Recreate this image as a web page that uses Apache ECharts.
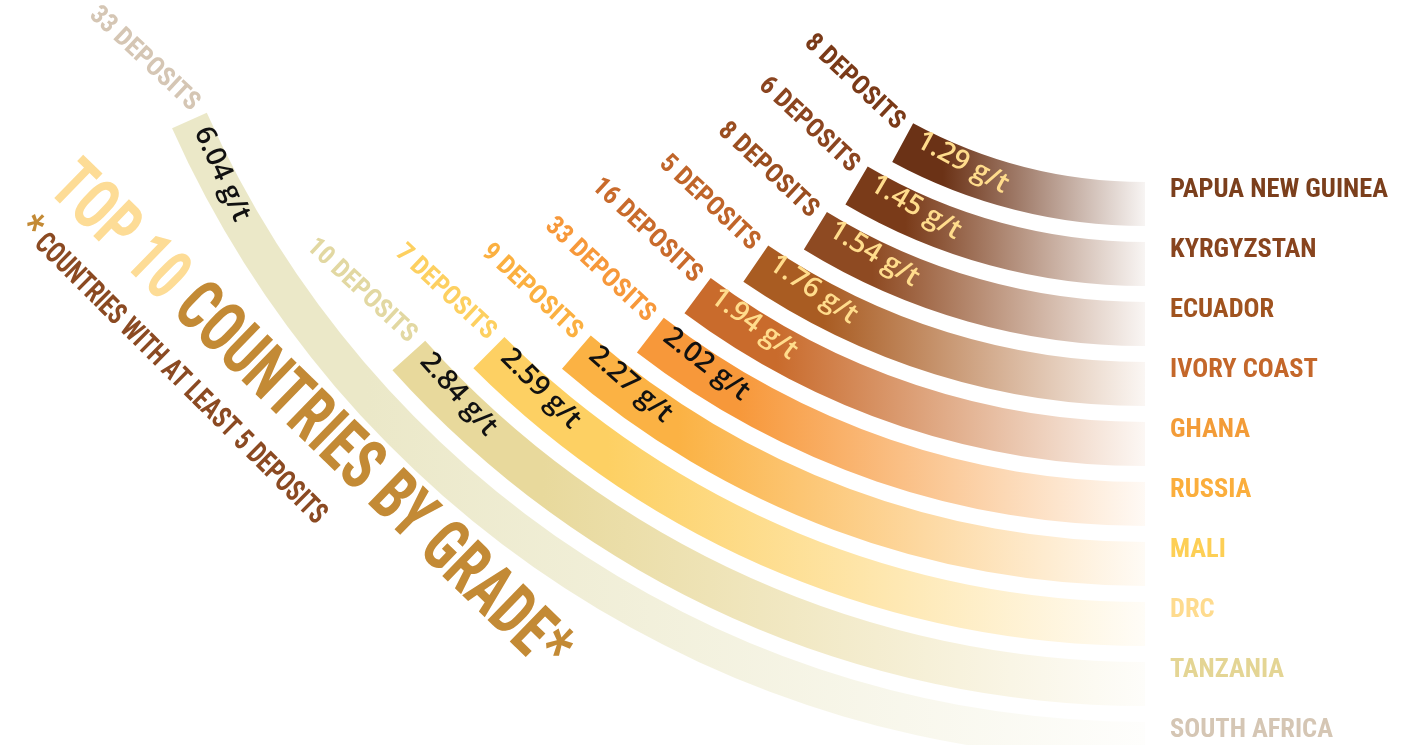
<!DOCTYPE html>
<html><head><meta charset="utf-8">
<script src="https://cdn.jsdelivr.net/npm/echarts@6/dist/echarts.min.js"></script>
<style>html,body{margin:0;padding:0;background:#fff;}#main{width:1403px;height:745px;}</style>
</head><body><div id="main"></div>
<script>
const countries = ['PAPUA NEW GUINEA','KYRGYZSTAN','ECUADOR','IVORY COAST','GHANA','RUSSIA','MALI','DRC','TANZANIA','SOUTH AFRICA'];
const grades = [1.29,1.45,1.54,1.76,1.94,2.02,2.27,2.59,2.84,6.04];
const deposits = [8,6,8,5,16,33,9,7,10,33];
const barColors = ['#6b3216','#7a3b19','#8e4a22','#a95c22','#c96b2c','#f7983a','#fbb244','#fdd063','#e8d99c','#ebe8c8'];
const nameColors = ['#7b3f1c','#88441e','#a0531f','#c4672a','#f39c38','#fbae3c','#fdcf55','#fedb8e','#e4d594','#d5c6b4'];
const depositColors = ['#7a3a18','#8b4520','#9a4e20','#c0652a','#c96b2c','#f7983a','#fbb040','#fdd060','#e2d8a2','#d5c6b4'];
const gradeLabelColors = ['#ffdc8c','#ffdc8c','#ffdc8c','#ffdc8c','#ffdc8c','#111111','#111111','#111111','#111111','#111111'];

// ---- font helpers ----
const ctx = document.createElement('canvas').getContext('2d');
function measure(font, text) { ctx.font = font; return ctx.measureText(text).width; }
function hasFont(name) {
  const s = 'PAPUA NEW GUINEA 0123456789';
  return measure("bold 40px '" + name + "', monospace", s) !== measure('bold 40px monospace', s) ||
         measure("bold 40px '" + name + "', serif", s) !== measure('bold 40px serif', s);
}
const condCandidates = ['Liberation Sans Narrow','Noto Sans Condensed','Roboto Condensed','Open Sans Condensed','DejaVu Sans Condensed','Liberation Sans'];
let condName = 'DejaVu Sans';
for (const f of condCandidates) { if (hasFont(f)) { condName = f; break; } }
const COND = "'" + condName + "', sans-serif";
const VAL = "'Open Sans', sans-serif";
function fitSize(weight, family, text, target) {
  return 40 * target / measure(weight + ' 40px ' + family, text);
}
const nameSize = Math.min(28, fitSize('bold', COND, 'PAPUA NEW GUINEA', 218));
const depSize = Math.min(28, fitSize('bold', COND, '33 DEPOSITS', 140));
const valSize = Math.min(28, fitSize('600', VAL, '2.27 g/t', 108));
const titleLen = measure('bold 72px ' + COND, 'TOP 10 COUNTRIES BY GRADE*');
const subLen = measure('bold 30px ' + COND, ' COUNTRIES WITH AT LEAST 5 DEPOSITS') + measure('bold 44px ' + COND, '*');

function rgba(hex, a) {
  const n = parseInt(hex.slice(1), 16);
  return 'rgba(' + ((n >> 16) & 255) + ',' + ((n >> 8) & 255) + ',' + (n & 255) + ',' + a + ')';
}
function grad(c) {
  return new echarts.graphic.LinearGradient(0, 0, 1, 0, [
    {offset: 0, color: rgba(c, 1)},
    {offset: 0.2, color: rgba(c, 1)},
    {offset: 1, color: rgba(c, 0.05)}
  ]);
}

const CENTER = [1145, -305];
const ANG_MIN = -0.95, ANG_MAX = 4.25;

const chart = echarts.init(document.getElementById('main'), null, {renderer: 'canvas'});

function endGeom(i) {
  const p = chart.convertToPixel({polarIndex: 0}, [i, Math.min(grades[i], ANG_MAX)]);
  const vx = p[0] - CENTER[0], vy = p[1] - CENTER[1];
  const r = Math.sqrt(vx * vx + vy * vy);
  const tx = vy / r, ty = -vx / r;
  const rot = Math.atan2(-ty, tx) * 180 / Math.PI;
  return {x: p[0], y: p[1], tx: tx, ty: ty, nx: vx / r, ny: vy / r, rot: rot};
}

const nameRich = {};
nameColors.forEach(function (c, i) {
  nameRich['c' + i] = {color: c, fontFamily: COND, fontWeight: 'bold', fontSize: nameSize};
});

const option = {
  backgroundColor: '#ffffff',
  animation: false,
  polar: {center: CENTER, radius: [465, 1065]},
  angleAxis: {
    type: 'value', min: ANG_MIN, max: ANG_MAX, startValue: ANG_MIN,
    startAngle: 270, endAngle: 204, clockwise: true,
    axisLine: {show: false}, axisTick: {show: false}, axisLabel: {show: false}, splitLine: {show: false}
  },
  radiusAxis: {
    type: 'category', data: countries,
    axisLine: {show: false}, axisTick: {show: false}, splitLine: {show: false},
    axisLabel: {
      interval: 0, margin: 25, fontFamily: COND, fontWeight: 'bold', fontSize: nameSize,
      formatter: function (v) { return '{c' + countries.indexOf(v) + '|' + v + '}'; },
      rich: nameRich
    }
  },
  series: [
    {
      type: 'bar', coordinateSystem: 'polar', barWidth: 44, barGap: '-100%', z: 2,
      data: grades.map(function (g, i) {
        return {value: g, itemStyle: {color: grad(barColors[i])}, label: {color: gradeLabelColors[i]}};
      }),
      label: {
        show: true, position: 'insideEnd',
        fontFamily: VAL, fontWeight: 600, fontSize: valSize,
        formatter: function (p) { return p.value.toFixed(2) + ' g/t'; }
      },
      labelLayout: function (params) {
        const g = endGeom(params.dataIndex);
        return {x: g.x + g.tx * 12 + g.nx * 3, y: g.y + g.ty * 12 + g.ny * 3, rotate: g.rot, align: 'left', verticalAlign: 'middle'};
      }
    },
    {
      type: 'bar', coordinateSystem: 'polar', barWidth: 44, barGap: '-100%', silent: true, z: 3,
      itemStyle: {color: 'rgba(0,0,0,0)'},
      data: grades.map(function (g, i) {
        return {value: g, label: {color: depositColors[i]}};
      }),
      label: {
        show: true, position: 'end',
        fontFamily: COND, fontWeight: 'bold', fontSize: depSize,
        formatter: function (p) { return deposits[p.dataIndex] + ' DEPOSITS'; }
      },
      labelLayout: function (params) {
        const g = endGeom(params.dataIndex);
        return {x: g.x - g.tx * 10, y: g.y - g.ty * 10, rotate: -43, align: 'right', verticalAlign: 'middle'};
      }
    }
  ],
  graphic: [
    {
      type: 'text', x: 308, y: 420, rotation: -0.772, scaleX: 695 / titleLen,
      style: {
        text: '{a|TOP 10 }{b|COUNTRIES BY GRADE*}',
        textAlign: 'center', textVerticalAlign: 'middle',
        font: 'bold 72px ' + COND,
        rich: {
          a: {fill: '#fddc96', fontSize: 72, fontWeight: 'bold', fontFamily: COND},
          b: {fill: '#c38a35', fontSize: 72, fontWeight: 'bold', fontFamily: COND}
        }
      }
    },
    {
      type: 'text', x: 172, y: 372, rotation: -0.782, scaleX: 420 / subLen,
      style: {
        text: '{s|*}{t| COUNTRIES WITH AT LEAST 5 DEPOSITS}',
        textAlign: 'center', textVerticalAlign: 'middle',
        font: 'bold 30px ' + COND,
        rich: {
          s: {fill: '#c38a35', fontSize: 44, fontWeight: 'bold', fontFamily: COND},
          t: {fill: '#8b4a22', fontSize: 30, fontWeight: 'bold', fontFamily: COND}
        }
      }
    }
  ]
};
chart.setOption(option);
</script></body></html>
